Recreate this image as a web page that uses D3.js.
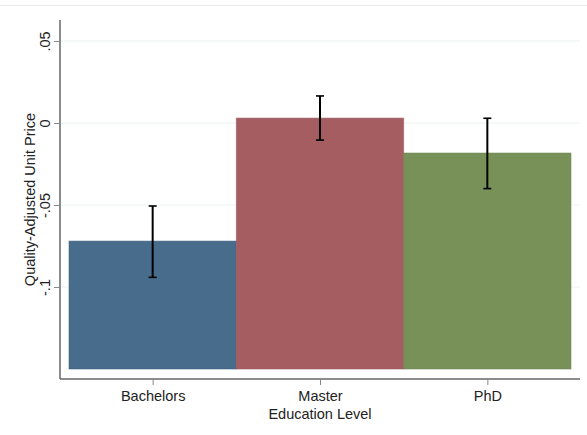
<!DOCTYPE html>
<html>
<head>
<meta charset="utf-8">
<script src="https://cdn.jsdelivr.net/npm/d3@7"></script>
<style>
  html, body { margin: 0; padding: 0; background: #fff; }
  svg { display: block; font-family: "Liberation Sans", Arial, sans-serif; }
</style>
</head>
<body>
<svg id="chart" width="587" height="435"></svg>
<script>
// Mean quality-adjusted unit price by education level, with confidence intervals
const categories = ["Bachelors", "Master", "PhD"];
const means = [-0.072, 0.003, -0.0183];
const ciLow = [-0.0941, -0.0104, -0.0400];
const ciHigh = [-0.0506, 0.0165, 0.0029];
const barColors = ["#486c8c", "#a65d62", "#779159"];
const yTicks = [0.05, 0, -0.05, -0.1];
const yTickLabels = [".05", "0", "-.05", "-.1"];
const baseline = -0.15;

const svg = d3.select("#chart");
const plotLeft = 60, plotRight = 580, plotTop = 20, plotBottom = 379;
const fontSize = 14.5, textColor = "#222";

const y = d3.scaleLinear().domain([-0.15609, 0.06281]).range([plotBottom, plotTop]);
const x = d3.scaleBand().domain(categories).range([69, 571]).padding(0);

// faint outer frame line
svg.append("line")
  .attr("x1", 0).attr("x2", 587).attr("y1", 5.5).attr("y2", 5.5)
  .attr("stroke", "#ececec").attr("stroke-width", 1);

// gridlines
svg.append("g").selectAll("line").data(yTicks).join("line")
  .attr("x1", plotLeft).attr("x2", plotRight)
  .attr("y1", d => y(d)).attr("y2", d => y(d))
  .attr("stroke", "#eaf2f3").attr("stroke-width", 1);

// bars
svg.append("g").selectAll("rect").data(categories).join("rect")
  .attr("x", d => x(d))
  .attr("width", x.bandwidth())
  .attr("y", (d, i) => y(means[i]))
  .attr("height", (d, i) => y(baseline) - y(means[i]))
  .attr("fill", (d, i) => barColors[i])
  .attr("stroke", (d, i) => d3.color(barColors[i]).darker(0.4))
  .attr("stroke-opacity", 0.5)
  .attr("stroke-width", 1);

// error bars
const eb = svg.append("g").attr("stroke", "#000").attr("stroke-width", 2);
categories.forEach((c, i) => {
  const cx = x(c) + x.bandwidth() / 2;
  eb.append("line").attr("x1", cx).attr("x2", cx)
    .attr("y1", y(ciLow[i])).attr("y2", y(ciHigh[i]));
  [ciLow[i], ciHigh[i]].forEach(v => {
    eb.append("line").attr("x1", cx - 4).attr("x2", cx + 4)
      .attr("y1", y(v)).attr("y2", y(v)).attr("stroke-width", 1.6);
  });
});

// y axis
const yAxis = svg.append("g").attr("transform", `translate(${plotLeft},0)`)
  .call(d3.axisLeft(y).tickValues(yTicks).tickSize(6).tickPadding(8)
    .tickFormat((d, i) => yTickLabels[i]));
yAxis.select(".domain").attr("stroke", "#666").attr("stroke-width", 1.5)
  .attr("d", `M0,${plotTop}V${plotBottom}`);
yAxis.selectAll(".tick line").attr("stroke", "#888");
yAxis.selectAll(".tick text")
  .attr("transform", "rotate(-90)")
  .attr("x", 0).attr("y", -10)
  .attr("dy", 0)
  .attr("text-anchor", "middle")
  .attr("font-size", fontSize).attr("fill", textColor);

// x axis
const xc = d3.scalePoint().domain(categories)
  .range([x("Bachelors") + x.bandwidth() / 2, x("PhD") + x.bandwidth() / 2]);
const xAxis = svg.append("g").attr("transform", `translate(0,${plotBottom})`)
  .call(d3.axisBottom(xc).tickSize(6).tickPadding(6));
xAxis.select(".domain").attr("stroke", "#666").attr("stroke-width", 1.5)
  .attr("d", `M${plotLeft},0H${plotRight}`);
xAxis.selectAll(".tick line").attr("stroke", "#888");
xAxis.selectAll(".tick text").attr("font-size", fontSize).attr("fill", textColor);

// axis titles
svg.append("text")
  .attr("x", xc("Master")).attr("y", 419)
  .attr("text-anchor", "middle").attr("font-size", fontSize).attr("fill", textColor)
  .text("Education Level");

svg.append("text")
  .attr("transform", `translate(35,${(plotTop + plotBottom) / 2}) rotate(-90)`)
  .attr("text-anchor", "middle").attr("font-size", fontSize).attr("fill", textColor)
  .text("Quality-Adjusted Unit Price");
</script>
</body>
</html>
